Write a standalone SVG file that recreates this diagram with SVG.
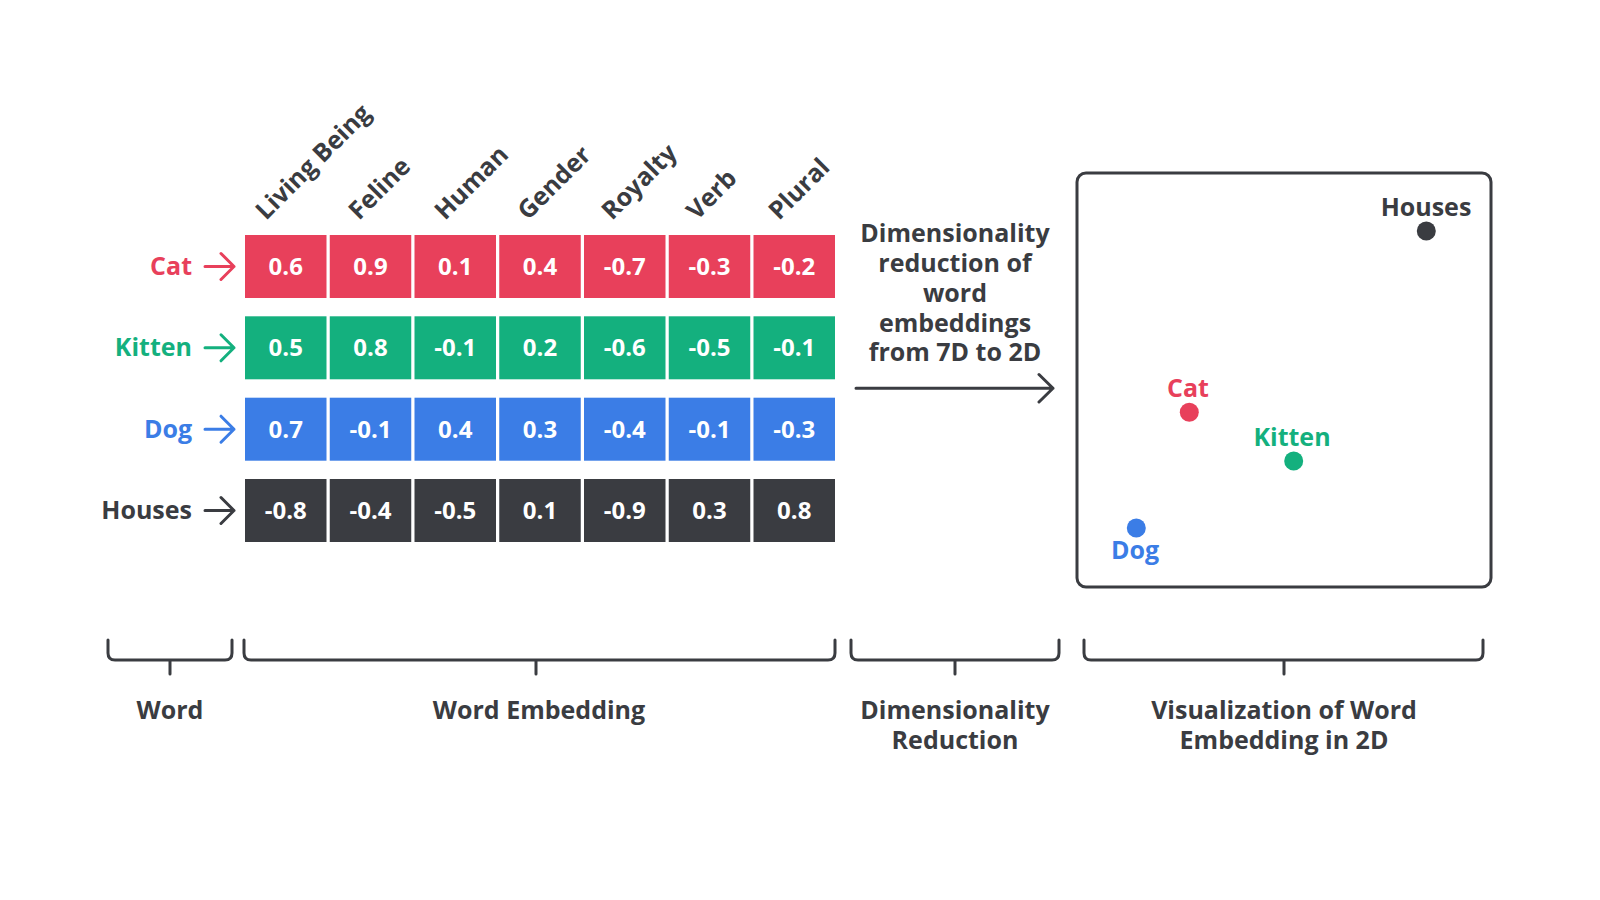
<svg xmlns="http://www.w3.org/2000/svg" width="1600" height="900" viewBox="0 0 1600 900">
<style>
text{font-family:"Open Sans","Noto Sans","Liberation Sans",sans-serif;font-weight:700}
.v{fill:#fff;font-size:24px;text-anchor:middle}
.h{fill:#3a3c41;font-size:25px}
.lbl{font-size:25px;text-anchor:end}
.mid{text-anchor:middle;font-size:25px;fill:#3a3c41}
.red{fill:#e8405b}.grn{fill:#14b07e}.blu{fill:#3b7de6}.drk{fill:#3a3c41}
.ln{fill:none;stroke-width:3;stroke-linecap:round;stroke-linejoin:round}
</style>
<rect width="1600" height="900" fill="#fff"/>

<g id="headers" class="h">
<text transform="translate(266,221) rotate(-45)">Living Being</text>
<text transform="translate(359,221) rotate(-45)">Feline</text>
<text transform="translate(445,221) rotate(-45)">Human</text>
<text transform="translate(528,221) rotate(-45)">Gender</text>
<text transform="translate(612,221) rotate(-45)">Royalty</text>
<text transform="translate(697,221) rotate(-45)">Verb</text>
<text transform="translate(779,221) rotate(-45)">Plural</text>
</g>

<g id="row-cat">
<text class="lbl red" x="192" y="275">Cat</text>
<path class="ln" stroke="#e8405b" d="M205 266.5H234M221 253.5L234 266.5L221 279.5"/>
<g class="red">
<rect x="245" y="235" width="81.5" height="63"/><rect x="329.75" y="235" width="81.5" height="63"/><rect x="414.5" y="235" width="81.5" height="63"/><rect x="499.25" y="235" width="81.5" height="63"/><rect x="584" y="235" width="81.5" height="63"/><rect x="668.75" y="235" width="81.5" height="63"/><rect x="753.5" y="235" width="81.5" height="63"/>
</g>
<g class="v">
<text x="285.75" y="275">0.6</text><text x="370.5" y="275">0.9</text><text x="455.25" y="275">0.1</text><text x="540" y="275">0.4</text><text x="624.75" y="275">-0.7</text><text x="709.5" y="275">-0.3</text><text x="794.25" y="275">-0.2</text>
</g>
</g>

<g id="row-kitten">
<text class="lbl grn" x="192" y="356.3">Kitten</text>
<path class="ln" stroke="#14b07e" d="M205 347.8H234M221 334.8L234 347.8L221 360.8"/>
<g class="grn">
<rect x="245" y="316.3" width="81.5" height="63"/><rect x="329.75" y="316.3" width="81.5" height="63"/><rect x="414.5" y="316.3" width="81.5" height="63"/><rect x="499.25" y="316.3" width="81.5" height="63"/><rect x="584" y="316.3" width="81.5" height="63"/><rect x="668.75" y="316.3" width="81.5" height="63"/><rect x="753.5" y="316.3" width="81.5" height="63"/>
</g>
<g class="v">
<text x="285.75" y="356.3">0.5</text><text x="370.5" y="356.3">0.8</text><text x="455.25" y="356.3">-0.1</text><text x="540" y="356.3">0.2</text><text x="624.75" y="356.3">-0.6</text><text x="709.5" y="356.3">-0.5</text><text x="794.25" y="356.3">-0.1</text>
</g>
</g>

<g id="row-dog">
<text class="lbl blu" x="192" y="437.7">Dog</text>
<path class="ln" stroke="#3b7de6" d="M205 429.2H234M221 416.2L234 429.2L221 442.2"/>
<g class="blu">
<rect x="245" y="397.7" width="81.5" height="63"/><rect x="329.75" y="397.7" width="81.5" height="63"/><rect x="414.5" y="397.7" width="81.5" height="63"/><rect x="499.25" y="397.7" width="81.5" height="63"/><rect x="584" y="397.7" width="81.5" height="63"/><rect x="668.75" y="397.7" width="81.5" height="63"/><rect x="753.5" y="397.7" width="81.5" height="63"/>
</g>
<g class="v">
<text x="285.75" y="437.7">0.7</text><text x="370.5" y="437.7">-0.1</text><text x="455.25" y="437.7">0.4</text><text x="540" y="437.7">0.3</text><text x="624.75" y="437.7">-0.4</text><text x="709.5" y="437.7">-0.1</text><text x="794.25" y="437.7">-0.3</text>
</g>
</g>

<g id="row-houses">
<text class="lbl drk" x="192" y="519">Houses</text>
<path class="ln" stroke="#3a3c41" d="M205 510.5H234M221 497.5L234 510.5L221 523.5"/>
<g class="drk">
<rect x="245" y="479" width="81.5" height="63"/><rect x="329.75" y="479" width="81.5" height="63"/><rect x="414.5" y="479" width="81.5" height="63"/><rect x="499.25" y="479" width="81.5" height="63"/><rect x="584" y="479" width="81.5" height="63"/><rect x="668.75" y="479" width="81.5" height="63"/><rect x="753.5" y="479" width="81.5" height="63"/>
</g>
<g class="v">
<text x="285.75" y="519">-0.8</text><text x="370.5" y="519">-0.4</text><text x="455.25" y="519">-0.5</text><text x="540" y="519">0.1</text><text x="624.75" y="519">-0.9</text><text x="709.5" y="519">0.3</text><text x="794.25" y="519">0.8</text>
</g>
</g>

<g id="reduction-note" class="mid">
<text x="955" y="242">Dimensionality</text>
<text x="955" y="272">reduction of</text>
<text x="955" y="302">word</text>
<text x="955" y="332">embeddings</text>
<text x="955" y="361">from 7D to 2D</text>
</g>

<g id="connectors">
<path class="ln" stroke="#3a3c41" d="M856 388.3H1053M1039 374.5L1053 388.3L1039 402"/>
</g>

<g id="plot">
<rect x="1077" y="173" width="414" height="414" rx="9" fill="none" stroke="#3a3c41" stroke-width="3"/>
<text class="mid drk" x="1426" y="216">Houses</text>
<circle cx="1426.3" cy="231" r="9.5" fill="#3a3c41"/>
<text class="mid red" x="1188" y="397">Cat</text>
<circle cx="1189.3" cy="412.3" r="9.5" fill="#e8405b"/>
<text class="mid grn" x="1292" y="445.5">Kitten</text>
<circle cx="1293.7" cy="461" r="9.5" fill="#14b07e"/>
<circle cx="1136.3" cy="528" r="9.5" fill="#3b7de6"/>
<text class="mid blu" x="1135" y="559">Dog</text>
</g>

<g id="brackets" class="ln" stroke="#3a3c41">
<path d="M108 640V653Q108 660 115 660H225Q232 660 232 653V640M170 660V674"/>
<path d="M244 640V653Q244 660 251 660H828Q835 660 835 653V640M536 660V674"/>
<path d="M851 640V653Q851 660 858 660H1052Q1059 660 1059 653V640M955 660V674"/>
<path d="M1084 640V653Q1084 660 1091 660H1476Q1483 660 1483 653V640M1284 660V674"/>
</g>

<g id="bracket-labels" class="mid">
<text x="170" y="719">Word</text>
<text x="539" y="719">Word Embedding</text>
<text x="955" y="719">Dimensionality</text>
<text x="955" y="749">Reduction</text>
<text x="1284" y="719">Visualization of Word</text>
<text x="1284" y="749">Embedding in 2D</text>
</g>
</svg>
